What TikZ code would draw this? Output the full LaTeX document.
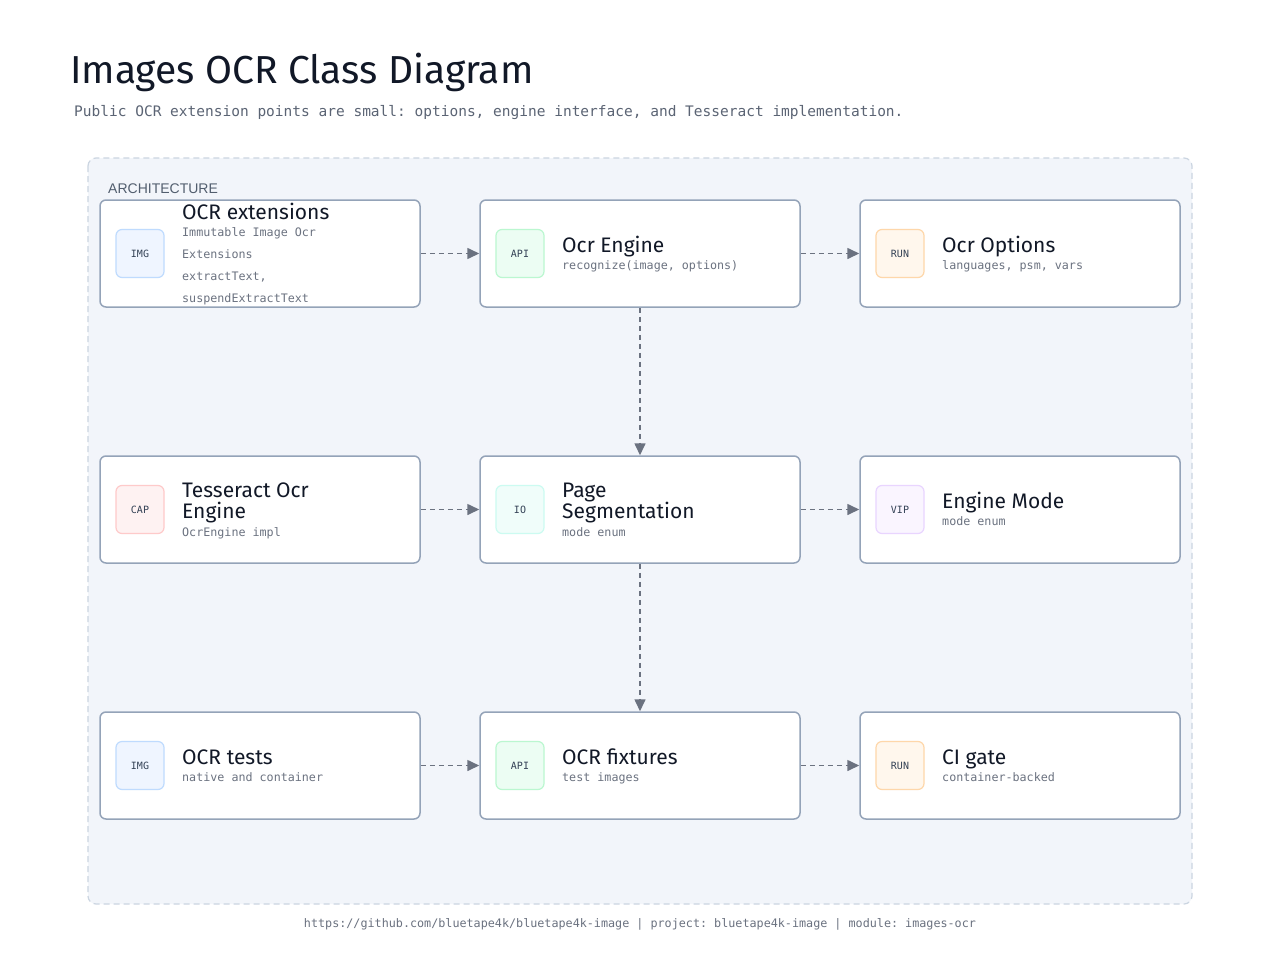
\documentclass[tikz,border=0pt]{standalone}
\usepackage{fontspec}
\setmainfont{Fira Sans}
\newfontfamily\monof{DejaVu Sans Mono}
\newfontfamily\handf{Fira Sans}
\newfontfamily\labf{Liberation Sans}
\usetikzlibrary{arrows.meta}
\frenchspacing
\definecolor{ink}{HTML}{111827}
\definecolor{subgray}{HTML}{6B7280}
\definecolor{leadgray}{HTML}{5B6474}
\definecolor{cardline}{HTML}{94A3B8}
\definecolor{panelfill}{HTML}{F2F5FA}
\definecolor{panelline}{HTML}{CBD5E1}
\definecolor{arrowgray}{HTML}{6B7280}
\definecolor{icontext}{HTML}{334155}
\definecolor{blueF}{HTML}{EFF5FF}\definecolor{blueD}{HTML}{BFDBFE}
\definecolor{greenF}{HTML}{ECFDF3}\definecolor{greenD}{HTML}{BBF7D0}
\definecolor{orangeF}{HTML}{FFF7ED}\definecolor{orangeD}{HTML}{FED7AA}
\definecolor{redF}{HTML}{FEF2F2}\definecolor{redD}{HTML}{FECACA}
\definecolor{tealF}{HTML}{F0FDFA}\definecolor{tealD}{HTML}{CCFBF1}
\definecolor{purpleF}{HTML}{FAF5FF}\definecolor{purpleD}{HTML}{E9D5FF}
\tikzset{
  card/.style={draw=cardline, fill=white, rounded corners=6pt, line width=1.5pt,
    minimum width=320pt, minimum height=107pt, inner sep=0pt},
  icon/.style={rounded corners=6pt, line width=1.2pt, minimum size=48pt, inner sep=0pt,
    font=\monof\fontsize{10}{12}\selectfont, text=icontext},
  ttl/.style={anchor=base west, inner sep=0pt, font=\handf\fontsize{21}{23}\selectfont, text=ink},
  sub/.style={anchor=base west, inner sep=0pt, font=\monof\fontsize{11.7}{14}\selectfont, text=subgray},
  flow/.style={draw=arrowgray, line width=1.6pt, dash pattern=on 5pt off 4pt,
    -{Triangle[length=12pt,width=11pt]}},
}
\begin{document}
\begin{tikzpicture}[x=1pt,y=-1pt]
\useasboundingbox (0,0) rectangle (1280,980);
\fill[white] (0,0) rectangle (1280,980);
% header
\node[anchor=base west, inner sep=0pt, font=\handf\fontsize{39}{42}\selectfont, text=ink] (title) at (70,83) {Images OCR Class Diagram};
\node[anchor=base west, inner sep=0pt, font=\monof\fontsize{14.5}{17}\selectfont, text=leadgray] (lead) at (74,116) {Public OCR extension points are small: options, engine interface, and Tesseract implementation.};
% panel
\draw[draw=panelline, fill=panelfill, line width=1.2pt, dash pattern=on 6pt off 4pt, rounded corners=8pt] (88,158) rectangle (1192,904);
\node[anchor=base west, inner sep=0pt, font=\labf\fontsize{14}{16}\selectfont, text=icontext!85] (arch) at (108,193) {ARCHITECTURE};
% cards
\node[card] (ext) at (260,253.5) {};
\node[card] (eng) at (640,253.5) {};
\node[card] (opt) at (1020,253.5) {};
\node[card] (tess) at (260,509.5) {};
\node[card] (page) at (640,509.5) {};
\node[card] (mode) at (1020,509.5) {};
\node[card] (tests) at (260,765.5) {};
\node[card] (fix) at (640,765.5) {};
\node[card] (ci) at (1020,765.5) {};
% icons
\node[icon, fill=blueF, draw=blueD] (extI) at (140,253.5) {IMG};
\node[icon, fill=greenF, draw=greenD] (engI) at (520,253.5) {API};
\node[icon, fill=orangeF, draw=orangeD] (optI) at (900,253.5) {RUN};
\node[icon, fill=redF, draw=redD] (tessI) at (140,509.5) {CAP};
\node[icon, fill=tealF, draw=tealD] (pageI) at (520,509.5) {IO};
\node[icon, fill=purpleF, draw=purpleD] (modeI) at (900,509.5) {VIP};
\node[icon, fill=blueF, draw=blueD] (testsI) at (140,765.5) {IMG};
\node[icon, fill=greenF, draw=greenD] (fixI) at (520,765.5) {API};
\node[icon, fill=orangeF, draw=orangeD] (ciI) at (900,765.5) {RUN};
% texts
\node[ttl] (extT) at (182,219) {OCR extensions};
\node[sub] (extS1) at (182,236) {Immutable Image Ocr};
\node[sub] (extS2) at (182,258) {Extensions};
\node[sub] (extS3) at (182,280) {extractText,};
\node[sub] (extS4) at (182,302) {suspendExtractText};
\node[ttl] (engT) at (562,252) {Ocr Engine};
\node[sub] (engS) at (562,269) {recognize(image, options)};
\node[ttl] (optT) at (942,252) {Ocr Options};
\node[sub] (optS) at (942,269) {languages, psm, vars};
\node[ttl] (tessT1) at (182,497) {Tesseract Ocr};
\node[ttl] (tessT2) at (182,518) {Engine};
\node[sub] (tessS) at (182,536) {OcrEngine impl};
\node[ttl] (pageT1) at (562,497) {Page};
\node[ttl] (pageT2) at (562,518) {Segmentation};
\node[sub] (pageS) at (562,536) {mode enum};
\node[ttl] (modeT) at (942,508) {Engine Mode};
\node[sub] (modeS) at (942,525) {mode enum};
\node[ttl] (testsT) at (182,764) {OCR tests};
\node[sub] (testsS) at (182,781) {native and container};
\node[ttl] (fixT) at (562,764) {OCR fixtures};
\node[sub] (fixS) at (562,781) {test images};
\node[ttl] (ciT) at (942,764) {CI gate};
\node[sub] (ciS) at (942,781) {container-backed};
% connectors
\draw[flow] (ext.east) -- (eng.west);
\draw[flow] (eng.east) -- (opt.west);
\draw[flow] (eng.south) -- (page.north);
\draw[flow] (tess.east) -- (page.west);
\draw[flow] (page.east) -- (mode.west);
\draw[flow] (page.south) -- (fix.north);
\draw[flow] (tests.east) -- (fix.west);
\draw[flow] (fix.east) -- (ci.west);
% footer
\node[anchor=base, inner sep=0pt, font=\monof\fontsize{11.75}{14}\selectfont, text=subgray] (foot) at (640,927) {https://github.com/bluetape4k/bluetape4k-image | project: bluetape4k-image | module: images-ocr};
\end{tikzpicture}
\end{document}
